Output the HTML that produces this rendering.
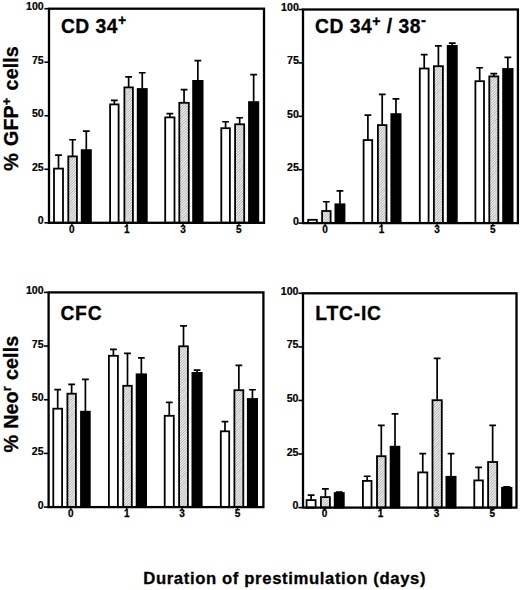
<!DOCTYPE html>
<html lang="en"><head><meta charset="utf-8"><title>Duration of prestimulation</title>
<style>html,body{margin:0;padding:0;background:#fff}svg{display:block}text{font-family:"Liberation Sans", Arial, Helvetica, sans-serif;font-weight:bold;fill:#000}</style>
</head><body>
<svg width="520" height="590" viewBox="0 0 520 590">
<defs><pattern id="hatch" width="1.9" height="1.9" patternUnits="userSpaceOnUse" patternTransform="rotate(-45)"><rect width="1.9" height="1.9" fill="#f8f8f8"/><line x1="0" y1="0.5" x2="1.9" y2="0.5" stroke="#8c8c8c" stroke-width="0.62"/></pattern></defs>
<rect width="520" height="590" fill="#fff"/>
<g id="p1">
<path d="M58.50 168.20 V155.15 M55.10 155.15 H61.90" stroke="#000" stroke-width="1.70" fill="none"/>
<rect x="54.00" y="168.60" width="9.00" height="54.20" fill="#fff" stroke="#000" stroke-width="1.80"/>
<path d="M72.60 156.00 V139.75 M69.20 139.75 H76.00" stroke="#000" stroke-width="1.70" fill="none"/>
<rect x="68.30" y="156.40" width="8.60" height="66.40" fill="url(#hatch)" stroke="#000" stroke-width="1.80"/>
<path d="M86.30 149.70 V131.15 M82.90 131.15 H89.70" stroke="#000" stroke-width="1.70" fill="none"/>
<rect x="81.70" y="150.10" width="9.20" height="72.70" fill="#000" stroke="#000" stroke-width="1.80"/>
<path d="M114.35 104.00 V100.45 M110.95 100.45 H117.75" stroke="#000" stroke-width="1.70" fill="none"/>
<rect x="110.10" y="104.40" width="8.50" height="118.40" fill="#fff" stroke="#000" stroke-width="1.80"/>
<path d="M128.65 87.00 V76.95 M125.25 76.95 H132.05" stroke="#000" stroke-width="1.70" fill="none"/>
<rect x="124.40" y="87.40" width="8.50" height="135.40" fill="url(#hatch)" stroke="#000" stroke-width="1.80"/>
<path d="M142.25 88.60 V72.75 M138.85 72.75 H145.65" stroke="#000" stroke-width="1.70" fill="none"/>
<rect x="137.70" y="89.00" width="9.10" height="133.80" fill="#000" stroke="#000" stroke-width="1.80"/>
<path d="M169.85 117.00 V113.65 M166.45 113.65 H173.25" stroke="#000" stroke-width="1.70" fill="none"/>
<rect x="165.20" y="117.40" width="9.30" height="105.40" fill="#fff" stroke="#000" stroke-width="1.80"/>
<path d="M184.05 102.40 V89.65 M180.65 89.65 H187.45" stroke="#000" stroke-width="1.70" fill="none"/>
<rect x="179.30" y="102.80" width="9.50" height="120.00" fill="url(#hatch)" stroke="#000" stroke-width="1.80"/>
<path d="M197.85 80.50 V60.55 M194.45 60.55 H201.25" stroke="#000" stroke-width="1.70" fill="none"/>
<rect x="193.10" y="80.90" width="9.50" height="141.90" fill="#000" stroke="#000" stroke-width="1.80"/>
<path d="M225.60 127.80 V121.75 M222.20 121.75 H229.00" stroke="#000" stroke-width="1.70" fill="none"/>
<rect x="221.30" y="128.20" width="8.60" height="94.60" fill="#fff" stroke="#000" stroke-width="1.80"/>
<path d="M239.65 123.90 V117.75 M236.25 117.75 H243.05" stroke="#000" stroke-width="1.70" fill="none"/>
<rect x="235.10" y="124.30" width="9.10" height="98.50" fill="url(#hatch)" stroke="#000" stroke-width="1.80"/>
<path d="M253.65 101.70 V74.65 M250.25 74.65 H257.05" stroke="#000" stroke-width="1.70" fill="none"/>
<rect x="249.00" y="102.10" width="9.30" height="120.70" fill="#000" stroke="#000" stroke-width="1.80"/>
<rect x="49.00" y="8.70" width="215.00" height="214.10" fill="none" stroke="#000" stroke-width="2.30"/>
<line x1="44.40" y1="8.70" x2="49.00" y2="8.70" stroke="#000" stroke-width="1.6"/>
<text x="43.70" y="10.20" font-size="10.6" text-anchor="end" stroke="#000" stroke-width="0.2">100</text>
<line x1="44.40" y1="62.23" x2="49.00" y2="62.23" stroke="#000" stroke-width="1.6"/>
<text x="43.70" y="63.73" font-size="10.6" text-anchor="end" stroke="#000" stroke-width="0.2">75</text>
<line x1="44.40" y1="115.75" x2="49.00" y2="115.75" stroke="#000" stroke-width="1.6"/>
<text x="43.70" y="117.25" font-size="10.6" text-anchor="end" stroke="#000" stroke-width="0.2">50</text>
<line x1="44.40" y1="169.28" x2="49.00" y2="169.28" stroke="#000" stroke-width="1.6"/>
<text x="43.70" y="170.78" font-size="10.6" text-anchor="end" stroke="#000" stroke-width="0.2">25</text>
<line x1="44.40" y1="222.80" x2="49.00" y2="222.80" stroke="#000" stroke-width="1.6"/>
<text x="43.70" y="224.30" font-size="10.6" text-anchor="end" stroke="#000" stroke-width="0.2">0</text>
<line x1="71.90" y1="222.80" x2="71.90" y2="226.00" stroke="#000" stroke-width="1.4"/>
<text x="71.90" y="232.60" font-size="10" text-anchor="middle" stroke="#000" stroke-width="0.25">0</text>
<line x1="126.90" y1="222.80" x2="126.90" y2="226.00" stroke="#000" stroke-width="1.4"/>
<text x="126.90" y="232.60" font-size="10" text-anchor="middle" stroke="#000" stroke-width="0.25">1</text>
<line x1="183.00" y1="222.80" x2="183.00" y2="226.00" stroke="#000" stroke-width="1.4"/>
<text x="183.00" y="232.60" font-size="10" text-anchor="middle" stroke="#000" stroke-width="0.25">3</text>
<line x1="238.90" y1="222.80" x2="238.90" y2="226.00" stroke="#000" stroke-width="1.4"/>
<text x="238.90" y="232.60" font-size="10" text-anchor="middle" stroke="#000" stroke-width="0.25">5</text>
<text x="60.90" y="32.90" font-size="19.3" letter-spacing="0.5" stroke="#000" stroke-width="0.3">CD 34<tspan dy="-7.6" font-size="14">+</tspan></text>
</g>
<g id="p2">
<rect x="308.20" y="219.80" width="8.60" height="3.30" fill="#fff" stroke="#000" stroke-width="1.80"/>
<path d="M326.35 210.60 V201.75 M322.95 201.75 H329.75" stroke="#000" stroke-width="1.70" fill="none"/>
<rect x="322.10" y="211.00" width="8.50" height="12.10" fill="url(#hatch)" stroke="#000" stroke-width="1.80"/>
<path d="M339.95 203.90 V190.85 M336.55 190.85 H343.35" stroke="#000" stroke-width="1.70" fill="none"/>
<rect x="335.40" y="204.30" width="9.10" height="18.80" fill="#000" stroke="#000" stroke-width="1.80"/>
<path d="M367.90 139.70 V115.15 M364.50 115.15 H371.30" stroke="#000" stroke-width="1.70" fill="none"/>
<rect x="363.60" y="140.10" width="8.60" height="83.00" fill="#fff" stroke="#000" stroke-width="1.80"/>
<path d="M382.20 124.70 V94.35 M378.80 94.35 H385.60" stroke="#000" stroke-width="1.70" fill="none"/>
<rect x="377.90" y="125.10" width="8.60" height="98.00" fill="url(#hatch)" stroke="#000" stroke-width="1.80"/>
<path d="M395.95 113.70 V98.95 M392.55 98.95 H399.35" stroke="#000" stroke-width="1.70" fill="none"/>
<rect x="391.30" y="114.10" width="9.30" height="109.00" fill="#000" stroke="#000" stroke-width="1.80"/>
<path d="M424.20 68.10 V54.65 M420.80 54.65 H427.60" stroke="#000" stroke-width="1.70" fill="none"/>
<rect x="419.80" y="68.50" width="8.80" height="154.60" fill="#fff" stroke="#000" stroke-width="1.80"/>
<path d="M438.40 65.80 V45.85 M435.00 45.85 H441.80" stroke="#000" stroke-width="1.70" fill="none"/>
<rect x="433.90" y="66.20" width="9.00" height="156.90" fill="url(#hatch)" stroke="#000" stroke-width="1.80"/>
<path d="M452.25 45.50 V43.05 M448.85 43.05 H455.65" stroke="#000" stroke-width="1.70" fill="none"/>
<rect x="447.70" y="45.90" width="9.10" height="177.20" fill="#000" stroke="#000" stroke-width="1.80"/>
<path d="M479.70 80.80 V67.75 M476.30 67.75 H483.10" stroke="#000" stroke-width="1.70" fill="none"/>
<rect x="475.40" y="81.20" width="8.60" height="141.90" fill="#fff" stroke="#000" stroke-width="1.80"/>
<path d="M493.80 76.00 V73.55 M490.40 73.55 H497.20" stroke="#000" stroke-width="1.70" fill="none"/>
<rect x="489.30" y="76.40" width="9.00" height="146.70" fill="url(#hatch)" stroke="#000" stroke-width="1.80"/>
<path d="M507.85 68.60 V57.35 M504.45 57.35 H511.25" stroke="#000" stroke-width="1.70" fill="none"/>
<rect x="503.10" y="69.00" width="9.50" height="154.10" fill="#000" stroke="#000" stroke-width="1.80"/>
<rect x="303.00" y="9.50" width="214.90" height="213.60" fill="none" stroke="#000" stroke-width="2.30"/>
<line x1="298.40" y1="9.50" x2="303.00" y2="9.50" stroke="#000" stroke-width="1.6"/>
<text x="298.80" y="11.00" font-size="10.6" text-anchor="end" stroke="#000" stroke-width="0.2">100</text>
<line x1="298.40" y1="62.90" x2="303.00" y2="62.90" stroke="#000" stroke-width="1.6"/>
<text x="298.80" y="64.40" font-size="10.6" text-anchor="end" stroke="#000" stroke-width="0.2">75</text>
<line x1="298.40" y1="116.30" x2="303.00" y2="116.30" stroke="#000" stroke-width="1.6"/>
<text x="298.80" y="117.80" font-size="10.6" text-anchor="end" stroke="#000" stroke-width="0.2">50</text>
<line x1="298.40" y1="169.70" x2="303.00" y2="169.70" stroke="#000" stroke-width="1.6"/>
<text x="298.80" y="171.20" font-size="10.6" text-anchor="end" stroke="#000" stroke-width="0.2">25</text>
<line x1="298.40" y1="223.10" x2="303.00" y2="223.10" stroke="#000" stroke-width="1.6"/>
<text x="298.80" y="224.60" font-size="10.6" text-anchor="end" stroke="#000" stroke-width="0.2">0</text>
<line x1="325.10" y1="223.10" x2="325.10" y2="226.30" stroke="#000" stroke-width="1.4"/>
<text x="325.10" y="232.90" font-size="10" text-anchor="middle" stroke="#000" stroke-width="0.25">0</text>
<line x1="381.60" y1="223.10" x2="381.60" y2="226.30" stroke="#000" stroke-width="1.4"/>
<text x="381.60" y="232.90" font-size="10" text-anchor="middle" stroke="#000" stroke-width="0.25">1</text>
<line x1="437.00" y1="223.10" x2="437.00" y2="226.30" stroke="#000" stroke-width="1.4"/>
<text x="437.00" y="232.90" font-size="10" text-anchor="middle" stroke="#000" stroke-width="0.25">3</text>
<line x1="492.80" y1="223.10" x2="492.80" y2="226.30" stroke="#000" stroke-width="1.4"/>
<text x="492.80" y="232.90" font-size="10" text-anchor="middle" stroke="#000" stroke-width="0.25">5</text>
<text x="315.10" y="33.20" font-size="19.3" letter-spacing="0.5" stroke="#000" stroke-width="0.3">CD 34<tspan dy="-7.6" font-size="14">+</tspan><tspan dy="7.6"> / 38</tspan><tspan dy="-8.4" font-size="15">-</tspan></text>
</g>
<g id="p3">
<path d="M57.70 408.30 V389.65 M54.30 389.65 H61.10" stroke="#000" stroke-width="1.70" fill="none"/>
<rect x="53.30" y="408.70" width="8.80" height="98.40" fill="#fff" stroke="#000" stroke-width="1.80"/>
<path d="M71.65 393.30 V384.35 M68.25 384.35 H75.05" stroke="#000" stroke-width="1.70" fill="none"/>
<rect x="67.40" y="393.70" width="8.50" height="113.40" fill="url(#hatch)" stroke="#000" stroke-width="1.80"/>
<path d="M85.40 411.30 V379.35 M82.00 379.35 H88.80" stroke="#000" stroke-width="1.70" fill="none"/>
<rect x="81.00" y="411.70" width="8.80" height="95.40" fill="#000" stroke="#000" stroke-width="1.80"/>
<path d="M113.40 355.40 V349.35 M110.00 349.35 H116.80" stroke="#000" stroke-width="1.70" fill="none"/>
<rect x="108.90" y="355.80" width="9.00" height="151.30" fill="#fff" stroke="#000" stroke-width="1.80"/>
<path d="M127.50 385.40 V353.45 M124.10 353.45 H130.90" stroke="#000" stroke-width="1.70" fill="none"/>
<rect x="123.20" y="385.80" width="8.60" height="121.30" fill="url(#hatch)" stroke="#000" stroke-width="1.80"/>
<path d="M141.35 373.90 V357.85 M137.95 357.85 H144.75" stroke="#000" stroke-width="1.70" fill="none"/>
<rect x="136.60" y="374.30" width="9.50" height="132.80" fill="#000" stroke="#000" stroke-width="1.80"/>
<path d="M169.25 415.40 V402.35 M165.85 402.35 H172.65" stroke="#000" stroke-width="1.70" fill="none"/>
<rect x="164.70" y="415.80" width="9.10" height="91.30" fill="#fff" stroke="#000" stroke-width="1.80"/>
<path d="M183.50 345.90 V325.95 M180.10 325.95 H186.90" stroke="#000" stroke-width="1.70" fill="none"/>
<rect x="179.10" y="346.30" width="8.80" height="160.80" fill="url(#hatch)" stroke="#000" stroke-width="1.80"/>
<path d="M197.05 372.50 V370.05 M193.65 370.05 H200.45" stroke="#000" stroke-width="1.70" fill="none"/>
<rect x="192.40" y="372.90" width="9.30" height="134.20" fill="#000" stroke="#000" stroke-width="1.80"/>
<path d="M225.00 430.90 V421.55 M221.60 421.55 H228.40" stroke="#000" stroke-width="1.70" fill="none"/>
<rect x="220.80" y="431.30" width="8.40" height="75.80" fill="#fff" stroke="#000" stroke-width="1.80"/>
<path d="M238.85 389.80 V365.45 M235.45 365.45 H242.25" stroke="#000" stroke-width="1.70" fill="none"/>
<rect x="234.40" y="390.20" width="8.90" height="116.90" fill="url(#hatch)" stroke="#000" stroke-width="1.80"/>
<path d="M252.45 398.60 V389.75 M249.05 389.75 H255.85" stroke="#000" stroke-width="1.70" fill="none"/>
<rect x="247.80" y="399.00" width="9.30" height="108.10" fill="#000" stroke="#000" stroke-width="1.80"/>
<rect x="48.60" y="292.40" width="214.80" height="214.70" fill="none" stroke="#000" stroke-width="2.30"/>
<line x1="44.00" y1="292.40" x2="48.60" y2="292.40" stroke="#000" stroke-width="1.6"/>
<text x="43.60" y="293.90" font-size="10.6" text-anchor="end" stroke="#000" stroke-width="0.2">100</text>
<line x1="44.00" y1="346.07" x2="48.60" y2="346.07" stroke="#000" stroke-width="1.6"/>
<text x="43.60" y="347.57" font-size="10.6" text-anchor="end" stroke="#000" stroke-width="0.2">75</text>
<line x1="44.00" y1="399.75" x2="48.60" y2="399.75" stroke="#000" stroke-width="1.6"/>
<text x="43.60" y="401.25" font-size="10.6" text-anchor="end" stroke="#000" stroke-width="0.2">50</text>
<line x1="44.00" y1="453.43" x2="48.60" y2="453.43" stroke="#000" stroke-width="1.6"/>
<text x="43.60" y="454.93" font-size="10.6" text-anchor="end" stroke="#000" stroke-width="0.2">25</text>
<line x1="44.00" y1="507.10" x2="48.60" y2="507.10" stroke="#000" stroke-width="1.6"/>
<text x="43.60" y="508.60" font-size="10.6" text-anchor="end" stroke="#000" stroke-width="0.2">0</text>
<line x1="70.75" y1="507.10" x2="70.75" y2="510.30" stroke="#000" stroke-width="1.4"/>
<text x="70.75" y="516.90" font-size="10" text-anchor="middle" stroke="#000" stroke-width="0.25">0</text>
<line x1="126.75" y1="507.10" x2="126.75" y2="510.30" stroke="#000" stroke-width="1.4"/>
<text x="126.75" y="516.90" font-size="10" text-anchor="middle" stroke="#000" stroke-width="0.25">1</text>
<line x1="182.00" y1="507.10" x2="182.00" y2="510.30" stroke="#000" stroke-width="1.4"/>
<text x="182.00" y="516.90" font-size="10" text-anchor="middle" stroke="#000" stroke-width="0.25">3</text>
<line x1="237.50" y1="507.10" x2="237.50" y2="510.30" stroke="#000" stroke-width="1.4"/>
<text x="237.50" y="516.90" font-size="10" text-anchor="middle" stroke="#000" stroke-width="0.25">5</text>
<text x="60.40" y="319.60" font-size="19.3" letter-spacing="0.8" stroke="#000" stroke-width="0.3">CFC</text>
</g>
<g id="p4">
<path d="M311.10 499.70 V495.15 M307.70 495.15 H314.50" stroke="#000" stroke-width="1.70" fill="none"/>
<rect x="306.60" y="500.10" width="9.00" height="7.50" fill="#fff" stroke="#000" stroke-width="1.80"/>
<path d="M325.40 496.70 V488.95 M322.00 488.95 H328.80" stroke="#000" stroke-width="1.70" fill="none"/>
<rect x="320.90" y="497.10" width="9.00" height="10.50" fill="url(#hatch)" stroke="#000" stroke-width="1.80"/>
<path d="M339.25 492.70 V492.15 M335.85 492.15 H342.65" stroke="#000" stroke-width="1.70" fill="none"/>
<rect x="334.70" y="493.10" width="9.10" height="14.50" fill="#000" stroke="#000" stroke-width="1.80"/>
<path d="M367.20 480.50 V476.25 M363.80 476.25 H370.60" stroke="#000" stroke-width="1.70" fill="none"/>
<rect x="362.90" y="480.90" width="8.60" height="26.70" fill="#fff" stroke="#000" stroke-width="1.80"/>
<path d="M381.30 455.80 V425.45 M377.90 425.45 H384.70" stroke="#000" stroke-width="1.70" fill="none"/>
<rect x="377.00" y="456.20" width="8.60" height="51.40" fill="url(#hatch)" stroke="#000" stroke-width="1.80"/>
<path d="M395.00 446.30 V413.95 M391.60 413.95 H398.40" stroke="#000" stroke-width="1.70" fill="none"/>
<rect x="390.60" y="446.70" width="8.80" height="60.90" fill="#000" stroke="#000" stroke-width="1.80"/>
<path d="M422.75 472.00 V453.65 M419.35 453.65 H426.15" stroke="#000" stroke-width="1.70" fill="none"/>
<rect x="418.20" y="472.40" width="9.10" height="35.20" fill="#fff" stroke="#000" stroke-width="1.80"/>
<path d="M437.15 399.80 V358.45 M433.75 358.45 H440.55" stroke="#000" stroke-width="1.70" fill="none"/>
<rect x="432.50" y="400.20" width="9.30" height="107.40" fill="url(#hatch)" stroke="#000" stroke-width="1.80"/>
<path d="M451.00 476.40 V453.65 M447.60 453.65 H454.40" stroke="#000" stroke-width="1.70" fill="none"/>
<rect x="446.40" y="476.80" width="9.20" height="30.80" fill="#000" stroke="#000" stroke-width="1.80"/>
<path d="M478.60 480.00 V467.45 M475.20 467.45 H482.00" stroke="#000" stroke-width="1.70" fill="none"/>
<rect x="474.30" y="480.40" width="8.60" height="27.20" fill="#fff" stroke="#000" stroke-width="1.80"/>
<path d="M492.65 461.60 V425.45 M489.25 425.45 H496.05" stroke="#000" stroke-width="1.70" fill="none"/>
<rect x="488.10" y="462.00" width="9.10" height="45.60" fill="url(#hatch)" stroke="#000" stroke-width="1.80"/>
<path d="M506.75 487.40 V486.85 M503.35 486.85 H510.15" stroke="#000" stroke-width="1.70" fill="none"/>
<rect x="502.00" y="487.80" width="9.50" height="19.80" fill="#000" stroke="#000" stroke-width="1.80"/>
<rect x="303.00" y="293.30" width="213.50" height="214.30" fill="none" stroke="#000" stroke-width="2.30"/>
<line x1="298.40" y1="293.30" x2="303.00" y2="293.30" stroke="#000" stroke-width="1.6"/>
<text x="298.50" y="294.80" font-size="10.6" text-anchor="end" stroke="#000" stroke-width="0.2">100</text>
<line x1="298.40" y1="346.88" x2="303.00" y2="346.88" stroke="#000" stroke-width="1.6"/>
<text x="298.50" y="348.38" font-size="10.6" text-anchor="end" stroke="#000" stroke-width="0.2">75</text>
<line x1="298.40" y1="400.45" x2="303.00" y2="400.45" stroke="#000" stroke-width="1.6"/>
<text x="298.50" y="401.95" font-size="10.6" text-anchor="end" stroke="#000" stroke-width="0.2">50</text>
<line x1="298.40" y1="454.03" x2="303.00" y2="454.03" stroke="#000" stroke-width="1.6"/>
<text x="298.50" y="455.53" font-size="10.6" text-anchor="end" stroke="#000" stroke-width="0.2">25</text>
<line x1="298.40" y1="507.60" x2="303.00" y2="507.60" stroke="#000" stroke-width="1.6"/>
<text x="298.50" y="509.10" font-size="10.6" text-anchor="end" stroke="#000" stroke-width="0.2">0</text>
<line x1="324.60" y1="507.60" x2="324.60" y2="510.80" stroke="#000" stroke-width="1.4"/>
<text x="324.60" y="517.40" font-size="10" text-anchor="middle" stroke="#000" stroke-width="0.25">0</text>
<line x1="380.50" y1="507.60" x2="380.50" y2="510.80" stroke="#000" stroke-width="1.4"/>
<text x="380.50" y="517.40" font-size="10" text-anchor="middle" stroke="#000" stroke-width="0.25">1</text>
<line x1="436.50" y1="507.60" x2="436.50" y2="510.80" stroke="#000" stroke-width="1.4"/>
<text x="436.50" y="517.40" font-size="10" text-anchor="middle" stroke="#000" stroke-width="0.25">3</text>
<line x1="492.30" y1="507.60" x2="492.30" y2="510.80" stroke="#000" stroke-width="1.4"/>
<text x="492.30" y="517.40" font-size="10" text-anchor="middle" stroke="#000" stroke-width="0.25">5</text>
<text x="315.30" y="320.30" font-size="19.3" letter-spacing="0.8" stroke="#000" stroke-width="0.3">LTC-IC</text>
</g>
<text transform="translate(17.6 170.8) rotate(-90)" font-size="19.7" letter-spacing="0.1" word-spacing="1.6" stroke="#000" stroke-width="0.3">% GFP<tspan dy="-7" font-size="13">+</tspan><tspan dy="7"> cells</tspan></text>
<text transform="translate(17.6 452.6) rotate(-90)" font-size="19.7" letter-spacing="0.1" word-spacing="0.6" stroke="#000" stroke-width="0.3">% Neo<tspan dy="-7" font-size="13">r</tspan><tspan dy="7"> cells</tspan></text>
<text x="143.2" y="584" font-size="16.7" textLength="282.3" lengthAdjust="spacing" stroke="#000" stroke-width="0.3">Duration of prestimulation (days)</text>
</svg>
</body></html>
